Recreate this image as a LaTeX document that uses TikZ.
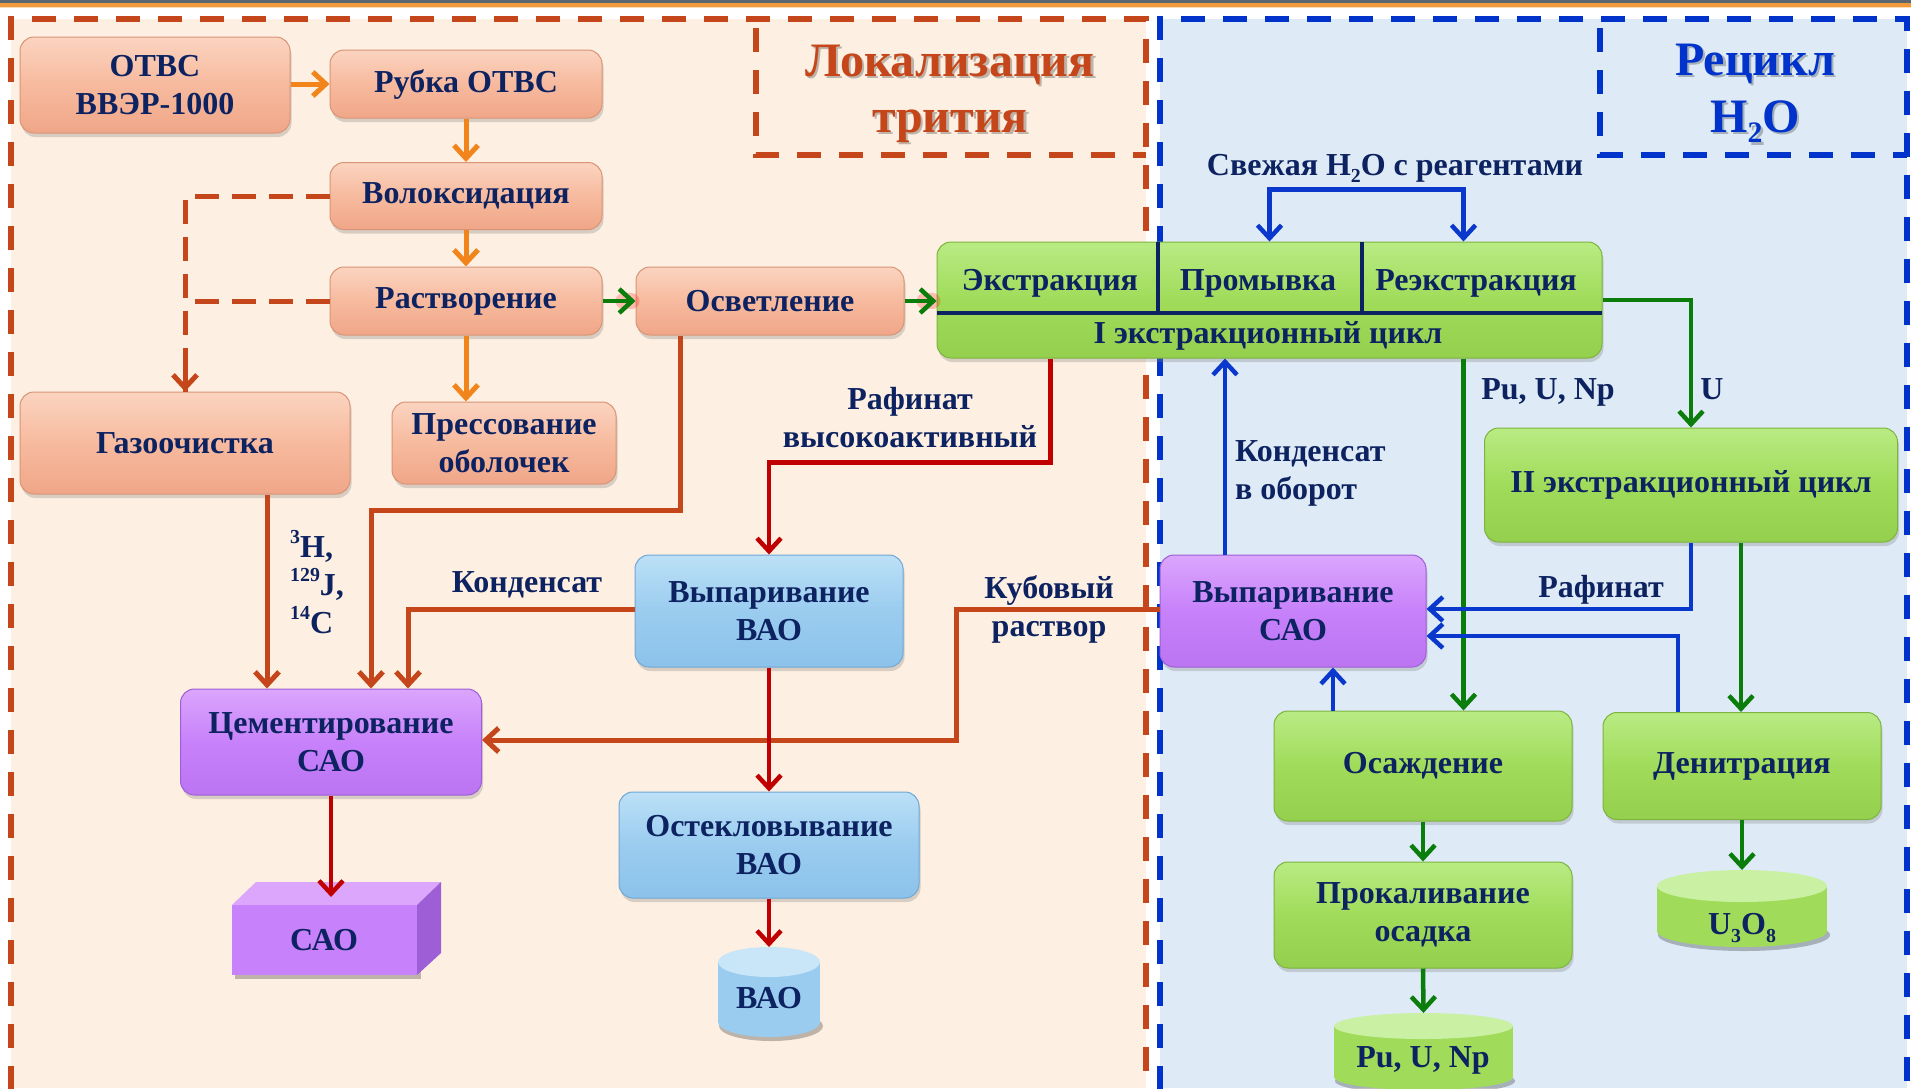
\documentclass[tikz,border=0pt]{standalone}
\usepackage{fontspec}
\setmainfont{Liberation Serif}
\usepackage{graphicx}
\usetikzlibrary{arrows.meta,shadows}
\definecolor{txt}{HTML}{0D2260}
\definecolor{peachT}{HTML}{FBD4C0}
\definecolor{peachM}{HTML}{F7BA9E}
\definecolor{peachB}{HTML}{F0A688}
\definecolor{peachD}{HTML}{D99476}
\definecolor{greenT}{HTML}{B9EB84}
\definecolor{greenM}{HTML}{A0DC5A}
\definecolor{greenB}{HTML}{94D04E}
\definecolor{greenD}{HTML}{7CB43E}
\definecolor{blueT}{HTML}{BCE0F7}
\definecolor{blueM}{HTML}{9ACCEF}
\definecolor{blueB}{HTML}{8CC2EA}
\definecolor{blueD}{HTML}{6FA8D6}
\definecolor{purpT}{HTML}{DBA6FC}
\definecolor{purpM}{HTML}{C781FA}
\definecolor{purpB}{HTML}{BC74F2}
\definecolor{purpD}{HTML}{9E5FD6}
\definecolor{arrO}{HTML}{F2841C}
\definecolor{brownc}{HTML}{C4461A}
\definecolor{redc}{HTML}{C00000}
\definecolor{greenc}{HTML}{0A7D0A}
\definecolor{bluec}{HTML}{0A38CC}
\definecolor{bluec2}{HTML}{0033CC}
\definecolor{leftbg}{HTML}{FDEFE1}
\definecolor{rightbg}{HTML}{DEEBF6}
\definecolor{barGray}{HTML}{5B6770}
\definecolor{barOr}{HTML}{F29A3B}
\newcommand\mysub[1]{\raisebox{-0.22em}{\scalebox{0.62}{#1}}}
\newcommand\mysup[1]{\raisebox{0.42em}{\scalebox{0.62}{#1}}}
\begin{document}
\begin{tikzpicture}[x=1pt,y=-1pt,
  font=\fontsize{32}{38}\selectfont\bfseries,
  box/.style={rounded corners=14pt, align=center, inner sep=0pt, text=txt, line width=1pt,
     drop shadow={shadow xshift=1.5pt, shadow yshift=-4pt, opacity=.3}},
  peach/.style={box, draw=peachD, top color=peachT, bottom color=peachB, middle color=peachM},
  greenbox/.style={box, draw=greenD, top color=greenT, bottom color=greenB, middle color=greenM},
  bluebox/.style={box, draw=blueD, top color=blueT, bottom color=blueB, middle color=blueM},
  purpbox/.style={box, draw=purpD, top color=purpT, bottom color=purpB, middle color=purpM},
  sz/.style 2 args={minimum width=#1pt, minimum height=#2pt},
  lbl/.style={text=txt, inner sep=0pt, align=center},
  vtip/.style={-{Straight Barb[length=13pt,width=24pt]}},
  oarr/.style={draw=arrO, line width=5pt, vtip},
  barr/.style={draw=brownc, line width=5pt, vtip},
  rarr/.style={draw=redc, line width=4.5pt, vtip},
  garr/.style={draw=greenc, line width=4.5pt, vtip},
  blarr/.style={draw=bluec, line width=4.5pt, vtip},
  glow/.style={draw=red, line width=16pt, opacity=.22, line cap=round},
  ddash/.style={draw=brownc, line width=5pt, dash pattern=on 24pt off 13pt},
  regO/.style={draw=brownc, line width=6pt, dash pattern=on 24pt off 18pt},
  regB/.style={draw=bluec2, line width=6pt, dash pattern=on 24pt off 18pt},
  ttl/.style={font=\fontsize{48}{56}\selectfont\bfseries, anchor=base, inner sep=0pt},
  ttlshadow/.style={ttl, text=black, opacity=.25},
]
\useasboundingbox (0,0) rectangle (1911,1088);
% background
\fill[white] (0,0) rectangle (1911,1088);
\fill[barGray] (0,0) rectangle (1911,2.5);
\fill[barOr] (0,2.5) rectangle (1911,6.5);
\fill[barOr!35] (0,6.5) rectangle (1911,8);
\fill[leftbg] (11,19) rectangle (1146,1088);
\fill[rightbg] (1160,19) rectangle (1907,1088);
% region borders
\draw[regO] (11,1090) -- (11,19) -- (1146,19) -- (1146,1090);
\draw[regO] (756,28) -- (756,155) -- (1146,155);
\draw[regB] (1160,1090) -- (1160,19) -- (1907,19) -- (1907,1090);
\draw[regB] (1600,28) -- (1600,155) -- (1907,155);
% titles
\node[ttlshadow] (tLok1s) at (952.5,78.5) {Локализация};
\node[ttlshadow] (tLok2s) at (952.5,134.5) {трития};
\node[ttl, text=brownc] (tLok1) at (950,76) {Локализация};
\node[ttl, text=brownc] (tLok2) at (950,132) {трития};
\node[ttlshadow] (tRec1s) at (1757.5,77.5) {Рецикл};
\node[ttlshadow] (tRec2s) at (1757.5,134.5) {H\mysub{2}O};
\node[ttl, text=bluec2] (tRec1) at (1755,75) {Рецикл};
\node[ttl, text=bluec2] (tRec2) at (1755,132) {H\mysub{2}O};

% peach boxes
\node[peach, sz={270}{96}] (otvs) at (155,85) {ОТВС\\ВВЭР-1000};
\node[peach, sz={272}{68}] (rubka) at (466,84) {Рубка ОТВС};
\node[peach, sz={272}{67}] (volox) at (466,196) {Волоксидация};
\node[peach, sz={272}{68}] (rastv) at (466,301) {Растворение};
\node[peach, sz={268}{68}] (osvet) at (770,301) {Осветление};
\node[peach, sz={224}{82}] (press) at (504,443) {Прессование\\оболочек};
\node[peach, sz={330}{102}] (gaz) at (185,443) {Газоочистка};
% purple
\node[purpbox, sz={301}{106}] (cem) at (331,742) {Цементирование\\САО};
\node[purpbox, sz={266}{112}] (vypSAO) at (1293,611) {Выпаривание\\САО};
% blue
\node[bluebox, sz={268}{112}] (vypVAO) at (769,611) {Выпаривание\\ВАО};
\node[bluebox, sz={300}{106}] (ostekl) at (769,845) {Остекловывание\\ВАО};
% green
\node[greenbox, sz={665}{116}] (ext) at (1269.5,300) {};
\node[greenbox, sz={413}{114}] (ii) at (1691,485) {II экстракционный цикл};
\node[greenbox, sz={298}{110}] (osazh) at (1423,766) {Осаждение};
\node[greenbox, sz={278}{107}] (denitr) at (1742,766) {Денитрация};
\node[greenbox, sz={298}{106}] (prokal) at (1423,915) {Прокаливание\\осадка};

% extraction box internals
\coordinate (eL) at (937,313);
\coordinate (eR) at (1602,313);
\coordinate (d1t) at (1158,242);
\coordinate (d1b) at (1158,313);
\coordinate (d2t) at (1362,242);
\coordinate (d2b) at (1362,313);
\draw[txt, line width=4.5pt] (eL) -- (eR);
\draw[txt, line width=4pt] (d1t) -- (d1b);
\draw[txt, line width=4pt] (d2t) -- (d2b);
\node[lbl, anchor=base] (tE1) at (1050,290) {Экстракция};
\node[lbl, anchor=base] (tE2) at (1258,290) {Промывка};
\node[lbl, anchor=base] (tE3) at (1476,290) {Реэкстракция};
\node[lbl, anchor=base] (tE4) at (1268,343) {I экстракционный цикл};

% cylinder VAO
\fill[black, opacity=.25] (771,1026) ellipse [x radius=52pt, y radius=15pt];
\fill[blueM] (769,1022) ellipse [x radius=51pt, y radius=15pt];
\fill[blueM] (718,962) rectangle (820,1022);
\fill[blueT!80!white] (769,962) ellipse [x radius=51pt, y radius=15pt];
\node[lbl] (cVAO) at (769,998) {ВАО};
\coordinate (cVAOtop) at (769,947);
% cylinder U3O8
\fill[black, opacity=.25] (1744,935) ellipse [x radius=86pt, y radius=16pt];
\fill[greenM] (1742,931) ellipse [x radius=85pt, y radius=16pt];
\fill[greenM] (1657,886) rectangle (1827,931);
\fill[greenT!75!white] (1742,886) ellipse [x radius=85pt, y radius=16pt];
\node[lbl] (cU) at (1742,928) {U\mysub{3}O\mysub{8}};
\coordinate (cUtop) at (1742,870);
% cylinder Pu U Np
\fill[black, opacity=.25] (1425,1081) ellipse [x radius=90pt, y radius=13pt];
\fill[greenM] (1423.5,1077) ellipse [x radius=89.5pt, y radius=13pt];
\fill[greenM] (1334,1026) rectangle (1513,1077);
\fill[greenT!75!white] (1423.5,1026) ellipse [x radius=89.5pt, y radius=13pt];
\node[lbl] (cPu) at (1423,1060) {Pu, U, Np};
\coordinate (cPutop) at (1423.5,1013);
% 3D box SAO
\fill[black, opacity=.25] (235,910) rectangle (421,979);
\fill[purpM] (232,905) rectangle (417,975);
\fill[purpT] (232,905) -- (256,882) -- (441,882) -- (417,905) -- cycle;
\fill[purpD] (417,905) -- (441,882) -- (441,953) -- (417,975) -- cycle;
\node[lbl] (sao) at (324,940) {САО};
\coordinate (saoTop) at (331,897);

% orange arrows (top chain)
\draw[oarr] (otvs.east |- rubka.west) -- (rubka.west);
\draw[oarr] (rubka.south) -- (volox.north);
\draw[oarr] (volox.south) -- (rastv.north);
\draw[oarr] (rastv.south) -- (rastv.south |- press.north);
% dashed to gas cleaning
\draw[ddash] (rastv.west) -- (rastv.west -| gaz.north);
\draw[ddash] (volox.west) -| (gaz.north);
\draw[draw=brownc, line width=5pt, vtip] ([yshift=20pt]gaz.north) -- (gaz.north);
% green glow arrows
\draw[glow] ([xshift=-4pt]osvet.west) -- ([xshift=-12pt]osvet.west);
\draw[glow] ([xshift=-4pt]ext.west |- osvet.east) -- ([xshift=-12pt]ext.west |- osvet.east);
\draw[garr] (rastv.east) -- (osvet.west);
\draw[garr] (osvet.east) -- (osvet.east -| ext.west);

% left side flows
\draw[barr] ([xshift=-90pt]osvet.south) -- ++(0,175) -| ([xshift=40pt]cem.north);
\draw[barr] ([xshift=82pt]gaz.south) -- ([xshift=82pt]gaz.south |- cem.north);
\draw[barr] ([yshift=2pt]vypVAO.west) -| ([xshift=77pt]cem.north);
\draw[barr] ([yshift=2pt]vypSAO.west) -- ++(-203,0) |- ([yshift=2pt]cem.east);
\draw[rarr] ([xshift=-219pt]ext.south) -- ++(0,104) -| (vypVAO.north);
\draw[rarr] (vypVAO.south) -- (ostekl.north);
\draw[rarr] (ostekl.south) -- (cVAOtop);
\draw[rarr] (cem.south) -- (saoTop);

% right side flows
\draw[draw=bluec, line width=4.5pt, {Straight Barb[length=13pt,width=24pt]}-{Straight Barb[length=13pt,width=24pt]}]
   (ext.north) -- ++(0,-52) -| ([xshift=194pt]ext.north);
\draw[garr] (ext.east) -| (ii.north);
\draw[garr] ([xshift=194pt]ext.south) -- ([xshift=194pt]ext.south |- osazh.north);
\draw[blarr] ([xshift=-68pt]vypSAO.north) -- ([xshift=-68pt]vypSAO.north |- ext.south);
\draw[blarr] (ii.south) |- ([yshift=2pt]vypSAO.east);
\draw[blarr] ([xshift=-64pt]denitr.north) |- ([yshift=-25pt]vypSAO.east);
\draw[blarr] ([xshift=-90pt]osazh.north) -- ([xshift=-90pt]osazh.north |- vypSAO.south);
\draw[garr] ([xshift=50pt]ii.south) -- ([xshift=50pt]ii.south |- denitr.north);
\draw[garr] (osazh.south) -- (prokal.north);
\draw[garr] (prokal.south) -- (cPutop);
\draw[garr] (denitr.south) -- (cUtop);

% labels (multi-line nodes: base = last line's baseline)
\node[lbl, anchor=base] (lFresh) at (1395,175) {Свежая H\mysub{2}O с реагентами};
\node[lbl, anchor=base] (lRafV) at (910,447) {Рафинат\\высокоактивный};
\node[lbl, anchor=base] (lKond) at (527,592) {Конденсат};
\node[lbl, anchor=base] (lKub) at (1049,636) {Кубовый\\раствор};
\node[lbl, anchor=base west, align=left] (lKond2) at (1235,499) {Конденсат\\в оборот};
\node[lbl, anchor=base] (lRaf) at (1601,597) {Рафинат};
\node[lbl, anchor=base] (lU) at (1712,399) {U};
\node[lbl, anchor=base] (lPu) at (1548,399) {Pu, U, Np};
\node[lbl, anchor=base west, align=left] (lIso) at (290,633) {\mysup{3}H,\\\mysup{129}J,\\\mysup{14}C};
\end{tikzpicture}
\end{document}
